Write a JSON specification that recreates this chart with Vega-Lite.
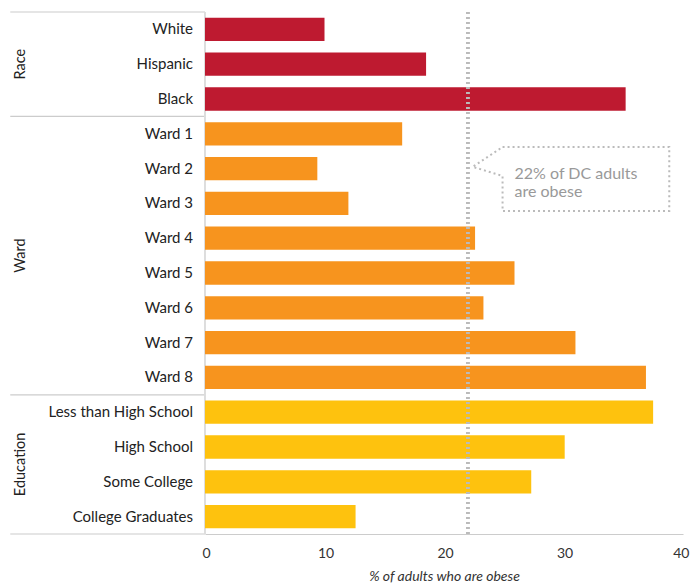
{
  "$schema": "https://vega.github.io/schema/vega-lite/v6.json",
  "padding": {"left": 0, "top": 10, "right": 7, "bottom": 0},
  "bounds": "flush",
  "config": {
    "view": {"stroke": null},
    "font": "Lato",
    "text": {"font": "Lato"}
  },
  "datasets": {
    "rows": [
      {"category": "White", "group": "Race", "value": 10.0},
      {"category": "Hispanic", "group": "Race", "value": 18.5},
      {"category": "Black", "group": "Race", "value": 35.2},
      {"category": "Ward 1", "group": "Ward", "value": 16.5},
      {"category": "Ward 2", "group": "Ward", "value": 9.4},
      {"category": "Ward 3", "group": "Ward", "value": 12.0},
      {"category": "Ward 4", "group": "Ward", "value": 22.6},
      {"category": "Ward 5", "group": "Ward", "value": 25.9},
      {"category": "Ward 6", "group": "Ward", "value": 23.3},
      {"category": "Ward 7", "group": "Ward", "value": 31.0},
      {"category": "Ward 8", "group": "Ward", "value": 36.9},
      {"category": "Less than High School", "group": "Education", "value": 37.5},
      {"category": "High School", "group": "Education", "value": 30.1},
      {"category": "Some College", "group": "Education", "value": 27.3},
      {"category": "College Graduates", "group": "Education", "value": 12.6}
    ],
    "callout": [
      {"ord": 1, "x": 24.9, "row": 3.88},
      {"ord": 2, "x": 38.85, "row": 3.88},
      {"ord": 3, "x": 38.85, "row": 5.72},
      {"ord": 4, "x": 24.9, "row": 5.72},
      {"ord": 5, "x": 24.9, "row": 4.71},
      {"ord": 6, "x": 22.4, "row": 4.45},
      {"ord": 7, "x": 24.9, "row": 3.88}
    ],
    "callout_text": [
      {"line": "22% of DC adults", "x": 25.9, "row": 4.66},
      {"line": "are obese", "x": 25.9, "row": 5.17}
    ]
  },
  "data": {"name": "rows"},
  "spacing": 0,
  "hconcat": [
    {
      "width": 205,
      "height": 522,
      "layer": [
        {
          "mark": {"type": "text", "align": "right", "baseline": "middle", "dx": -12, "fontSize": 15, "color": "#222"},
          "encoding": {
            "y": {"field": "category", "type": "nominal", "sort": null, "axis": null,
                  "scale": {"domain": ["White","Hispanic","Black","Ward 1","Ward 2","Ward 3","Ward 4","Ward 5","Ward 6","Ward 7","Ward 8","Less than High School","High School","Some College","College Graduates"], "paddingInner": 0, "paddingOuter": 0}},
            "x": {"datum": 1, "type": "quantitative", "scale": {"domain": [0, 1]}, "axis": null},
            "text": {"field": "category"}
          }
        },
        {
          "transform": [{"filter": {"field": "category", "oneOf": ["White", "Ward 1", "Less than High School"]}}],
          "mark": {"type": "rule", "color": "#cccccc", "strokeWidth": 1.2},
          "encoding": {
            "y": {"field": "category", "type": "nominal", "sort": null, "bandPosition": 0},
            "x": {"datum": 0.05, "type": "quantitative"},
            "x2": {"datum": 1}
          }
        },
        {
          "transform": [{"filter": {"field": "category", "oneOf": ["College Graduates"]}}],
          "mark": {"type": "rule", "color": "#cccccc", "strokeWidth": 1.2},
          "encoding": {
            "y": {"field": "category", "type": "nominal", "sort": null, "bandPosition": 1},
            "x": {"datum": 0.05, "type": "quantitative"},
            "x2": {"datum": 1}
          }
        },
        {
          "transform": [{"filter": {"field": "category", "oneOf": ["Hispanic"]}}],
          "mark": {"type": "text", "angle": 270, "align": "center", "baseline": "middle", "fontSize": 14.5, "color": "#222"},
          "encoding": {
            "y": {"field": "category", "type": "nominal", "sort": null, "bandPosition": 0.5},
            "x": {"datum": 0.1, "type": "quantitative"},
            "text": {"field": "group"}
          }
        },
        {
          "transform": [{"filter": {"field": "category", "oneOf": ["Ward 4", "High School"]}}],
          "mark": {"type": "text", "angle": 270, "align": "center", "baseline": "middle", "fontSize": 14.5, "color": "#222"},
          "encoding": {
            "y": {"field": "category", "type": "nominal", "sort": null, "bandPosition": 1},
            "x": {"datum": 0.1, "type": "quantitative"},
            "text": {"field": "group"}
          }
        }
      ]
    },
    {
      "width": 478,
      "height": 522,
      "layer": [
        {
          "mark": {"type": "rule", "color": "#dddddd", "strokeWidth": 1},
          "encoding": {"x": {"datum": 0, "type": "quantitative"}}
        },
        {
          "mark": {"type": "bar", "height": {"band": 0.67}},
          "encoding": {
            "y": {"field": "category", "type": "nominal", "sort": null,
                  "scale": {"domain": ["White","Hispanic","Black","Ward 1","Ward 2","Ward 3","Ward 4","Ward 5","Ward 6","Ward 7","Ward 8","Less than High School","High School","Some College","College Graduates"], "paddingInner": 0, "paddingOuter": 0},
                  "axis": null},
            "x": {"field": "value", "type": "quantitative",
                  "scale": {"domain": [0, 40], "nice": false},
                  "axis": {"values": [0, 10, 20, 30, 40], "ticks": false, "grid": false, "domainColor": "#cccccc", "domainWidth": 1.2,
                           "labelFontSize": 14, "labelColor": "#333", "labelPadding": 12, "labelFlush": false,
                           "labelAlign": {"condition": {"test": "datum.value === 40", "value": "right"}, "value": "center"},
                           "labelOffset": {"condition": {"test": "datum.value === 40", "value": 6}, "value": 1},
                           "title": "% of adults who are obese", "titleFontStyle": "italic", "titleFontWeight": "normal",
                           "titleFontSize": 14, "titleColor": "#333", "titlePadding": 9}},
            "color": {"field": "group", "type": "nominal",
                      "scale": {"domain": ["Race", "Ward", "Education"], "range": ["#be1a30", "#f7941e", "#fec20e"]},
                      "legend": null}
          }
        },
        {
          "mark": {"type": "rule", "color": "#bbbbbb", "strokeWidth": 2.5, "strokeDash": [2, 3]},
          "encoding": {"x": {"datum": 22, "type": "quantitative"}}
        },
        {
          "data": {"name": "callout"},
          "mark": {"type": "line", "color": "#bbbbbb", "strokeWidth": 2, "strokeDash": [2, 3]},
          "encoding": {
            "x": {"field": "x", "type": "quantitative"},
            "y": {"field": "row", "type": "quantitative", "scale": {"domain": [0, 15], "reverse": true, "nice": false}, "axis": null},
            "order": {"field": "ord", "type": "quantitative"}
          }
        },
        {
          "data": {"name": "callout_text"},
          "mark": {"type": "text", "align": "left", "baseline": "middle", "fontSize": 16, "color": "#999999"},
          "encoding": {
            "x": {"field": "x", "type": "quantitative"},
            "y": {"field": "row", "type": "quantitative", "scale": {"domain": [0, 15], "reverse": true, "nice": false}, "axis": null},
            "text": {"field": "line"}
          }
        }
      ],
      "resolve": {"scale": {"y": "independent"}, "axis": {"y": "independent"}}
    }
  ]
}
